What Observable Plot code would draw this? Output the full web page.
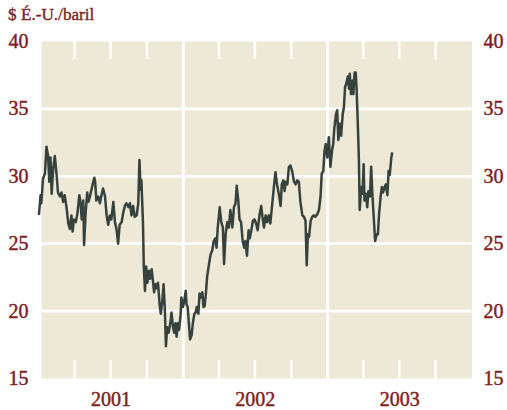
<!DOCTYPE html>
<html><head><meta charset="utf-8">
<script src="https://cdn.jsdelivr.net/npm/d3@7"></script>
<script src="https://cdn.jsdelivr.net/npm/@observablehq/plot@0.6"></script>
<style>
body{margin:0;background:#fff;}
#wrap{position:relative;width:507px;height:410px;}
#title{position:absolute;left:8px;top:6px;font:17.2px/1 "Liberation Serif",serif;color:#7f1d1d;white-space:nowrap;-webkit-text-stroke:0.35px #7f1d1d;}
#chart svg text{stroke:#7f1d1d;stroke-width:0.45px;}
</style></head><body>
<div id="wrap"><div id="chart"></div><div id="title">$ É.-U./baril</div></div>
<script>
// days since 2001-01-01 and price (US$/barrel)
const dayOffset = [
  0,4,6,10,15,19,23,26,29,32, 36,40,44,48,53,57,61,65,70,74, 78,82,85,88,93,97,102,105,108,112,
  114,118,122,125,129,131,135,140,142,145, 150,154,158,162,167,171,175,179,183,188,
  192,196,200,204,209,213,217,221,226,230, 234,238,242,247,
  251,254,257,259,263,265,268,271,274,278, 281,285,288,291,295,298,301,305,308,312,
  315,318,321,324,328,333,335,339,342,345, 348,351,354,358,360,364,367,371,373,376,
  379,382,386,389,393,396,399,403,406,409, 413,416,419,422,425,430,434,
  438,442,446,449,452,457,461,465,468,472, 476,480,484,489,493,497,500,504,507,511,
  515,519,522,526,530,533,537,541,545,549, 553,558,562,565,569,573,577,581,585,590,
  594,598,602,607,611,614,618,621,624,628, 632,636,640,645,649,653,657,661,
  666,670,674,677,680,683,687,691,695,699, 704,708,712,715,719,722,725,729,733,737,
  741,744,747,751,754,757,761,764,768,771, 774,778,781,784,786,789,793,795,798,801,
  803,806,809,811,815,818,821,823,827,830, 833,837,840,843,847,850,854,857,860,864,
  867,870,874,877,881,884,887,891,893
];
const price = [
  27.2,28.6,28.0,29.8,30.2,32.2,31.5,29.6,31.4,28.7, 30.6,31.5,30.3,28.8,28.5,28.8,28.1,28.6,27.6,26.5, 26.1,27.1,25.9,26.8,26.6,27.2,28.6,28.1,26.8,28.2,
  24.9,27.3,28.8,28.1,28.5,28.8,29.3,29.9,29.6,28.2, 28.5,28.0,28.6,29.1,28.5,27.1,26.4,27.1,26.8,28.1,
  26.6,26.1,25.0,26.4,26.6,27.3,27.8,28.0,27.7,28.0, 27.1,27.8,27.0,27.1,
  28.0,31.2,29.0,29.7,26.5,23.3,21.5,23.3,22.1,23.0, 22.4,23.1,22.3,21.4,22.0,21.7,22.1,20.5,19.8,20.8,
  22.0,20.3,17.4,18.8,18.4,19.3,19.9,18.8,18.4,19.1, 18.1,19.1,18.6,19.7,21.0,20.3,20.7,21.5,20.5,20.3,
  19.1,17.9,18.2,19.1,19.8,19.9,20.3,19.8,21.3,21.0, 21.4,20.3,20.4,21.3,22.5,23.5,24.2,
  24.5,25.2,25.4,24.7,26.2,27.7,26.6,26.2,23.5,25.7, 26.6,26.2,27.5,26.2,27.7,28.0,29.3,28.2,26.8,26.6,
  25.2,24.7,25.2,24.1,26.0,25.4,26.0,26.7,26.8,26.5, 26.0,27.2,27.8,27.0,26.2,27.1,26.6,27.1,26.5,28.0,
  29.2,30.3,29.4,28.6,27.8,29.4,29.7,28.9,29.6,29.4, 30.7,30.8,30.4,29.6,29.4,29.7,29.6,28.1,
  27.1,27.0,26.7,23.4,25.7,25.5,26.7,27.0,27.1,27.0, 27.2,27.5,28.5,30.2,30.4,31.9,32.4,31.4,32.9,30.7,
  31.9,32.4,33.6,34.6,34.9,32.7,33.9,33.0,34.6,35.1, 36.6,37.0,37.4,36.5,37.6,36.1,37.1,36.1,37.7,37.7,
  36.6,34.1,31.2,27.5,29.2,28.7,30.9,28.2,28.7,27.7, 28.9,28.5,30.7,28.7,26.7,25.2,25.7,25.7,27.2,28.5,
  29.2,28.8,29.2,29.4,28.6,30.4,30.1,31.4,31.7
];
const yTicks = [15, 20, 25, 30, 35, 40];
const gridValues = [20, 25, 30, 35];
const yearLabels = [2001, 2002, 2003];
const yearBreaks = [2002, 2003];
const quarterMonths = [3, 6, 9];

if (dayOffset.length !== price.length) console.error("length mismatch", dayOffset.length, price.length);

const start = new Date(Date.UTC(2001, 0, 1));
const series = dayOffset.map((d, i) => ({date: d3.utcDay.offset(start, d), price: price[i]}));
const labelDates = yearLabels.map(y => new Date(Date.UTC(y, 6, 2)));
const breakDates = yearBreaks.map(y => new Date(Date.UTC(y, 0, 1)));
const quarterDates = yearLabels.flatMap(y => quarterMonths.map(m => new Date(Date.UTC(y, m, 1))));

const red = "#7f1d1d";
const plotH = 378 - 41;

const chart = Plot.plot({
  width: 507,
  height: 410,
  marginLeft: 38.5,
  marginRight: 35.5,
  marginTop: 41,
  marginBottom: 32,
  style: {fontFamily: "'Liberation Serif', serif", fontSize: "20px", color: red, background: "white"},
  x: {type: "utc", domain: [new Date(Date.UTC(2001, 0, 1)), new Date(Date.UTC(2004, 0, 1))], axis: null},
  y: {domain: [15, 40], axis: null},
  marks: [
    Plot.frame({fill: "#eee8d6", stroke: null, insetLeft: 2.5}),
    Plot.ruleY(gridValues, {stroke: "white", strokeWidth: 2.7}),
    Plot.ruleX(breakDates, {stroke: "white", strokeWidth: 3}),
    Plot.ruleX(quarterDates, {stroke: "white", strokeWidth: 2.5, insetTop: plotH - 18}),
    Plot.ruleX(quarterDates, {stroke: "white", strokeWidth: 2.5, insetBottom: plotH - 18}),
    Plot.axisY(yTicks, {anchor: "left", tickSize: 0, tickPadding: 10.5, label: null, fontSize: 20, fill: red}),
    Plot.axisY(yTicks, {anchor: "right", tickSize: 0, tickPadding: 11.5, label: null, fontSize: 20, fill: red}),
    Plot.axisX(labelDates, {anchor: "bottom", tickSize: 0, tickPadding: 13.5, tickFormat: "%Y", label: null, fontSize: 20, fill: red}),
    Plot.line(series, {x: "date", y: "price", stroke: "#36423d", strokeWidth: 2.5, strokeLinejoin: "round"})
  ]
});
document.getElementById("chart").appendChild(chart);
</script>
</body></html>
